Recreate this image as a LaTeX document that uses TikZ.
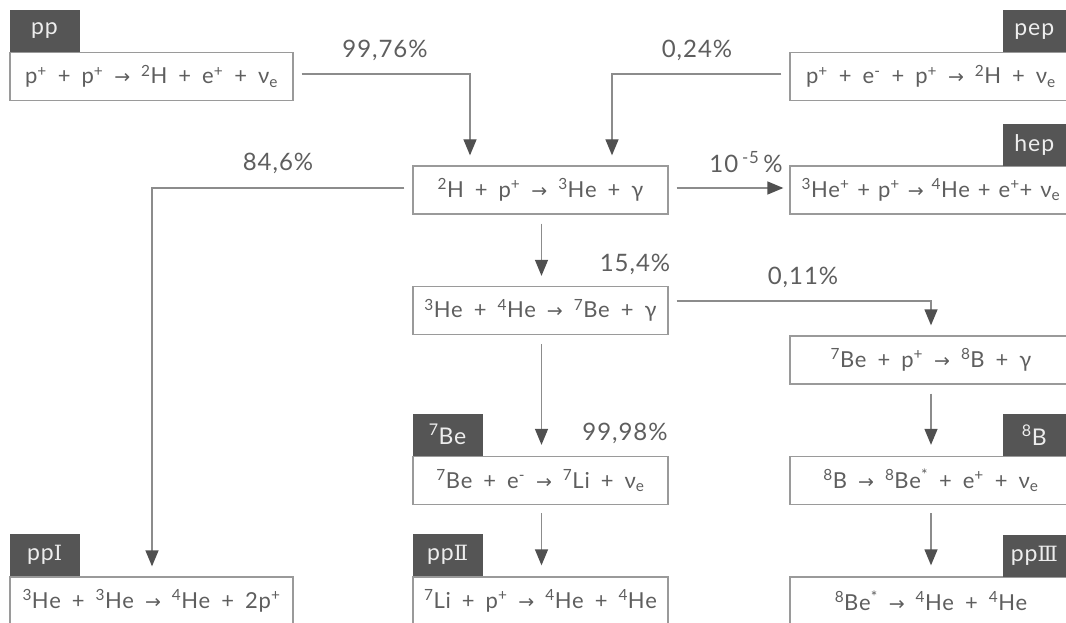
\documentclass[tikz,border=0pt]{standalone}
\usepackage{fontspec}
\setmainfont{Lato}[LetterSpace=4]
\newfontfamily\symfont{DejaVu Sans}
\newfontfamily\romfont{DejaVu Serif}
\usetikzlibrary{arrows.meta}
\definecolor{txt}{HTML}{5E5E5E}
\definecolor{frame}{HTML}{9A9A9A}
\definecolor{tagfill}{HTML}{555555}
\definecolor{tagtxt}{HTML}{EDEDED}
\definecolor{linec}{HTML}{8C8C8C}
\definecolor{headc}{HTML}{505050}
\newcommand{\hi}[1]{\textsuperscript{#1}}
\newcommand{\lo}[1]{\textsubscript{#1}}
\newcommand{\ra}{{\symfont\fontsize{19}{19}\selectfont →}}
\newcommand{\boxfont}{\fontsize{22}{26}\selectfont\spaceskip 0.5em\relax}
\newcommand{\tightfont}{\fontsize{22}{26}\selectfont\spaceskip 0.36em\relax}
\begin{document}
\begin{tikzpicture}[x=1pt,y=-1pt,
  reaction/.style={draw=frame, line width=1.3pt, minimum height=48pt, inner sep=0pt, text=txt, font=\boxfont},
  wl/.style={reaction, minimum width=283pt},
  wm/.style={reaction, minimum width=255pt},
  wr/.style={reaction, minimum width=282pt},
  tag/.style={fill=tagfill, text=tagtxt, minimum width=70pt, minimum height=42pt, inner sep=0pt, font=\fontsize{23}{26}\selectfont},
  tagr/.style={tag, minimum width=63pt, anchor=south east},
  tagl/.style={tag, anchor=south west},
  pct/.style={text=txt, inner sep=0pt, font=\fontsize{24}{28}\selectfont},
  conn/.style={draw=linec, line width=1.3pt, -{Triangle[width=13pt,length=16pt,fill=headc,color=headc]}}
]
\useasboundingbox (0,0) rectangle (1066,623);

% reaction boxes
\node[wl] (pp)  at (151.5,76.5) {p\hi{+} + p\hi{+} \ra{} \hi{2}H + e\hi{+} + ν\lo{e}};
\node[wr] (pep) at (931,76.5)   {p\hi{+} + e\hi{-} + p\hi{+} \ra{} \hi{2}H + ν\lo{e}};
\node[wm] (dh)  at (540.5,190)  {\hi{2}H + p\hi{+} \ra{} \hi{3}He + γ};
\node[wr, font=\tightfont] (hep) at (931,190) {\hi{3}He\hi{+} + p\hi{+} \ra{} \hi{4}He + e\hi{+}+ ν\lo{e}};
\node[wm] (he)  at (540.5,310.5){\hi{3}He + \hi{4}He \ra{} \hi{7}Be + γ};
\node[wr] (bep) at (931,360)    {\hi{7}Be + p\hi{+} \ra{} \hi{8}B + γ};
\node[wm] (be)  at (540.5,480.5){\hi{7}Be + e\hi{-} \ra{} \hi{7}Li + ν\lo{e}};
\node[wr] (bb)  at (931,480.5)  {\hi{8}B \ra{} \hi{8}Be\hi{*} + e\hi{+} + ν\lo{e}};
\node[wl] (p1)  at (151.5,601)  {\hi{3}He + \hi{3}He \ra{} \hi{4}He + 2p\hi{+}};
\node[wm] (p2)  at (540.5,601)  {\hi{7}Li + p\hi{+} \ra{} \hi{4}He + \hi{4}He};
\node[wr] (p3)  at (931,601)    {\hi{8}Be\hi{*} \ra{} \hi{4}He + \hi{4}He};

% tags
\node[tagl] (tpp)  at (pp.north west) {pp};
\node[tagr] (tpep) at (1066,52.5) {pep};
\node[tagr] (thep) at (1066,166) {hep};
\node[tagl] (tbe)  at (be.north west) {\hi{7}Be};
\node[tagr] (tbb)  at (1066,456.5) {\hi{8}B};
\node[tagl] (tp1)  at (p1.north west) {pp{\romfont\fontsize{21}{21}\selectfont Ⅰ}};
\node[tagl] (tp2)  at (p2.north west) {pp{\romfont\fontsize{21}{21}\selectfont Ⅱ}};
\node[tagr] (tp3)  at (1066,577) {pp{\romfont\fontsize{21}{21}\selectfont Ⅲ}};

% connectors
\draw[conn] ([xshift=8pt,yshift=2.5pt]pp.east) -| ([xshift=-70.5pt,yshift=10pt]dh.north);
\draw[conn] ([xshift=-8pt,yshift=2.5pt]pep.west) -| ([xshift=71.5pt,yshift=10pt]dh.north);
\draw[conn] ([xshift=-8pt,yshift=2pt]dh.west) -| ([xshift=0.5pt,yshift=10pt]p1.north);
\draw[conn] ([xshift=8pt,yshift=2pt]dh.east) -- ([xshift=-6pt,yshift=2pt]hep.west);
\draw[conn] ([xshift=1pt,yshift=-9pt]dh.south) -- ([xshift=1pt,yshift=10pt]he.north);
\draw[conn] ([xshift=8pt,yshift=9.5pt]he.east) -| ([yshift=10pt]bep.north);
\draw[conn] ([xshift=1pt,yshift=-9pt]he.south) -- ([xshift=1pt,yshift=11pt]be.north);
\draw[conn] ([xshift=1pt,yshift=-8pt]be.south) -- ([xshift=1pt,yshift=11pt]p2.north);
\draw[conn] ([yshift=-9pt]bep.south) -- ([yshift=11pt]bb.north);
\draw[conn] ([yshift=-8pt]bb.south) -- ([yshift=11pt]p3.north);

% percentages
\node[pct] (l1) at (385,50)  {99,76\%};
\node[pct] (l2) at (697,50)  {0,24\%};
\node[pct] (l3) at (278,163) {84,6\%};
\node[pct] (l4) at (746,162) {10\,\hi{-5}\,\%};
\node[pct] (l5) at (635,264) {15,4\%};
\node[pct] (l6) at (803,277) {0,11\%};
\node[pct] (l7) at (625,433) {99,98\%};
\end{tikzpicture}
\end{document}
